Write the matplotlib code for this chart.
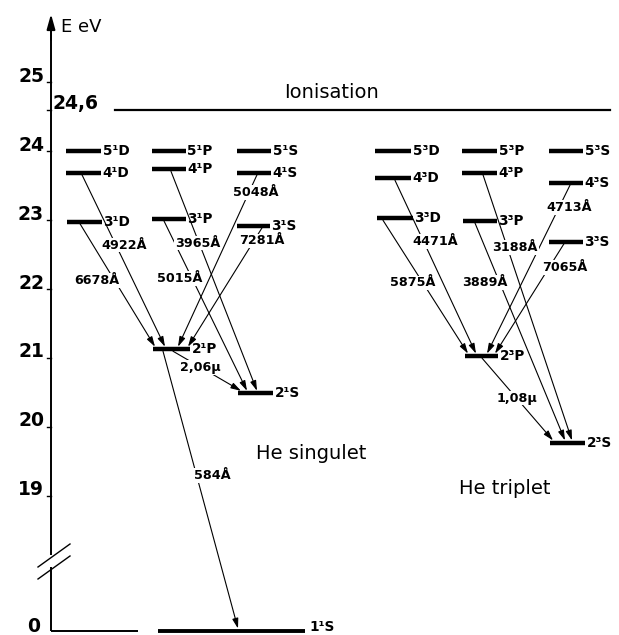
import matplotlib
matplotlib.use('Agg')
import matplotlib.pyplot as plt
from matplotlib.patches import FancyArrowPatch

# ---------------- data ----------------
singlet_levels = ['5¹D', '4¹D', '3¹D', '5¹P', '4¹P', '3¹P', '5¹S', '4¹S', '3¹S', '2¹P', '2¹S', '1¹S']
singlet_energy = [24.00, 23.69, 22.98, 24.00, 23.74, 23.02, 24.00, 23.69, 22.92, 21.13, 20.49, 0.0]
triplet_levels = ['5³D', '4³D', '3³D', '5³P', '4³P', '3³P', '5³S', '4³S', '3³S', '2³P', '2³S']
triplet_energy = [24.00, 23.61, 23.03, 24.00, 23.69, 22.99, 24.00, 23.54, 22.69, 21.03, 19.77]
ionisation_energy = 24.6
tick_values = [25, 24.6, 24, 23, 22, 21, 20, 19, 0]
tick_labels = ['25', '24,6', '24', '23', '22', '21', '20', '19', '0']

trans_from = ['3¹D', '4¹D', '3¹P', '4¹P', '4¹S', '3¹S', '2¹P', '2¹P',
              '3³D', '4³D', '3³P', '4³P', '4³S', '3³S', '2³P']
trans_to = ['2¹P', '2¹P', '2¹S', '2¹S', '2¹P', '2¹P', '2¹S', '1¹S',
            '2³P', '2³P', '2³S', '2³S', '2³P', '2³P', '2³S']
trans_label = ['6678Å', '4922Å', '5015Å', '3965Å', '5048Å', '7281Å', '2,06μ', '584Å',
               '5875Å', '4471Å', '3889Å', '3188Å', '4713Å', '7065Å', '1,08μ']

# ---------------- layout (pixel x, display-eV y) ----------------
bar_x = {
    '5¹D': (66, 101), '4¹D': (66, 101), '3¹D': (67, 102),
    '5¹P': (152, 186), '4¹P': (152, 186), '3¹P': (152, 186),
    '5¹S': (237, 271), '4¹S': (237, 271), '3¹S': (237, 270),
    '2¹P': (153, 190), '2¹S': (238, 273), '1¹S': (158, 305),
    '5³D': (375, 411), '4³D': (375, 411), '3³D': (377, 413),
    '5³P': (462, 497), '4³P': (462, 497), '3³P': (463, 497),
    '5³S': (549, 583), '4³S': (549, 583), '3³S': (549, 583),
    '2³P': (465, 498), '2³S': (550, 585),
}
# start x, end x of each transition line
trans_x = [(80, 155), (82, 165), (164, 247), (171, 257), (257, 178), (262, 188),
           (173, 241), (163, 238),
           (383, 468), (395, 476), (475, 565), (483, 572), (570, 487), (564, 495),
           (482, 553)]
# label centres (pixel x, display eV)
trans_label_pos = [(97, 22.13), (124, 22.64), (180, 22.16), (198, 22.67), (256, 23.40),
                   (262, 22.70), (200, 20.86), (212, 19.30),
                   (413, 22.09), (435, 22.69), (485, 22.10), (515, 22.61), (569, 23.19),
                   (565, 22.31), (517, 20.42)]

W, H = 619, 635
PX_PER_EV = 68.9
Y25 = 82.5
ZERO_DISP = 17.04


def ydisp(E):
    return E if E > 10 else ZERO_DISP + E


def py2e(py):
    return 25 - (py - Y25) / PX_PER_EV


fig = plt.figure(figsize=(W / 100, H / 100), dpi=100)
ax = fig.add_axes([0, 0, 1, 1])
ax.set_xlim(0, W)
ax.set_ylim(py2e(H), py2e(0))
ax.axis('off')

energies = dict(zip(singlet_levels, singlet_energy))
energies.update(dict(zip(triplet_levels, triplet_energy)))

# ---- axis ----
axis_x = 51
axc = 'black'
ax.plot([axis_x, axis_x], [ydisp(0), py2e(567)], color=axc, lw=1.4, solid_capstyle='butt')
ax.plot([axis_x, axis_x], [py2e(555), py2e(22)], color=axc, lw=1.4, solid_capstyle='butt')
ax.add_patch(FancyArrowPatch((axis_x, py2e(40)), (axis_x, py2e(14)),
                             arrowstyle='-|>,head_length=0.9,head_width=0.25',
                             mutation_scale=10, color=axc, lw=1.4, shrinkA=0, shrinkB=0))
# break marks
ax.plot([38, 70], [py2e(567), py2e(544)], color=axc, lw=1.0)
ax.plot([38, 70], [py2e(579), py2e(556)], color=axc, lw=1.0)
# bottom baseline
ax.plot([axis_x, 138], [ydisp(0), ydisp(0)], color=axc, lw=1.4, solid_capstyle='butt')

TICK_FS = 13.5
for v, lab in zip(tick_values, tick_labels):
    y = ydisp(v)
    if v != 0:
        ax.plot([axis_x - 4, axis_x], [y, y], color=axc, lw=1.0)
    if lab == '24,6':
        ax.text(axis_x + 2, y + 0.02, lab, ha='left', va='baseline', fontsize=TICK_FS,
                fontweight='bold')
    elif v == 0:
        ax.text(40, y - 0.02, lab, ha='right', va='baseline', fontsize=TICK_FS,
                fontweight='bold')
    else:
        ax.text(44, y + 0.01, lab, ha='right', va='baseline', fontsize=TICK_FS,
                fontweight='bold')

ax.text(61, py2e(32), 'E eV', ha='left', va='baseline', fontsize=13)

# ---- ionisation ----
ax.plot([115, 610], [ionisation_energy, ionisation_energy], color='black', lw=1.6)
ax.text(332, py2e(92), 'Ionisation', ha='center', va='center', fontsize=14)

# ---- levels ----
for name, E in energies.items():
    x0, x1 = bar_x[name]
    y = ydisp(E)
    ax.plot([x0, x1], [y, y], color='black', lw=3.2 if E > 10 else 2.8,
            solid_capstyle='butt', zorder=4)
    if E > 10:
        ax.text(x1 + 1.5, y, name, ha='left', va='center', fontsize=9.8,
                fontweight='bold', zorder=5)
    else:
        ax.text(x1 + 4, py2e(634), name, ha='left', va='bottom', fontsize=9.8,
                fontweight='bold', zorder=5)

# ---- transitions ----
for f, t, lab, (xs, xe), (lx, ly) in zip(trans_from, trans_to, trans_label, trans_x, trans_label_pos):
    y0 = ydisp(energies[f]) - 0.03
    y1 = ydisp(energies[t]) + 0.035
    ax.add_patch(FancyArrowPatch((xs, y0), (xe, y1),
                                 arrowstyle='-|>,head_length=0.6,head_width=0.18',
                                 mutation_scale=10, color='black', lw=0.8,
                                 shrinkA=0, shrinkB=0, zorder=2))
    ax.text(lx, ly, lab, ha='center', va='center', fontsize=9.2, fontweight='bold',
            zorder=3, bbox=dict(facecolor='white', edgecolor='none', pad=0.6))

ax.text(311, 19.62, 'He singulet', ha='center', va='center', fontsize=14)
ax.text(505, 19.11, 'He triplet', ha='center', va='center', fontsize=14)

fig.savefig('out.png', dpi=100)
